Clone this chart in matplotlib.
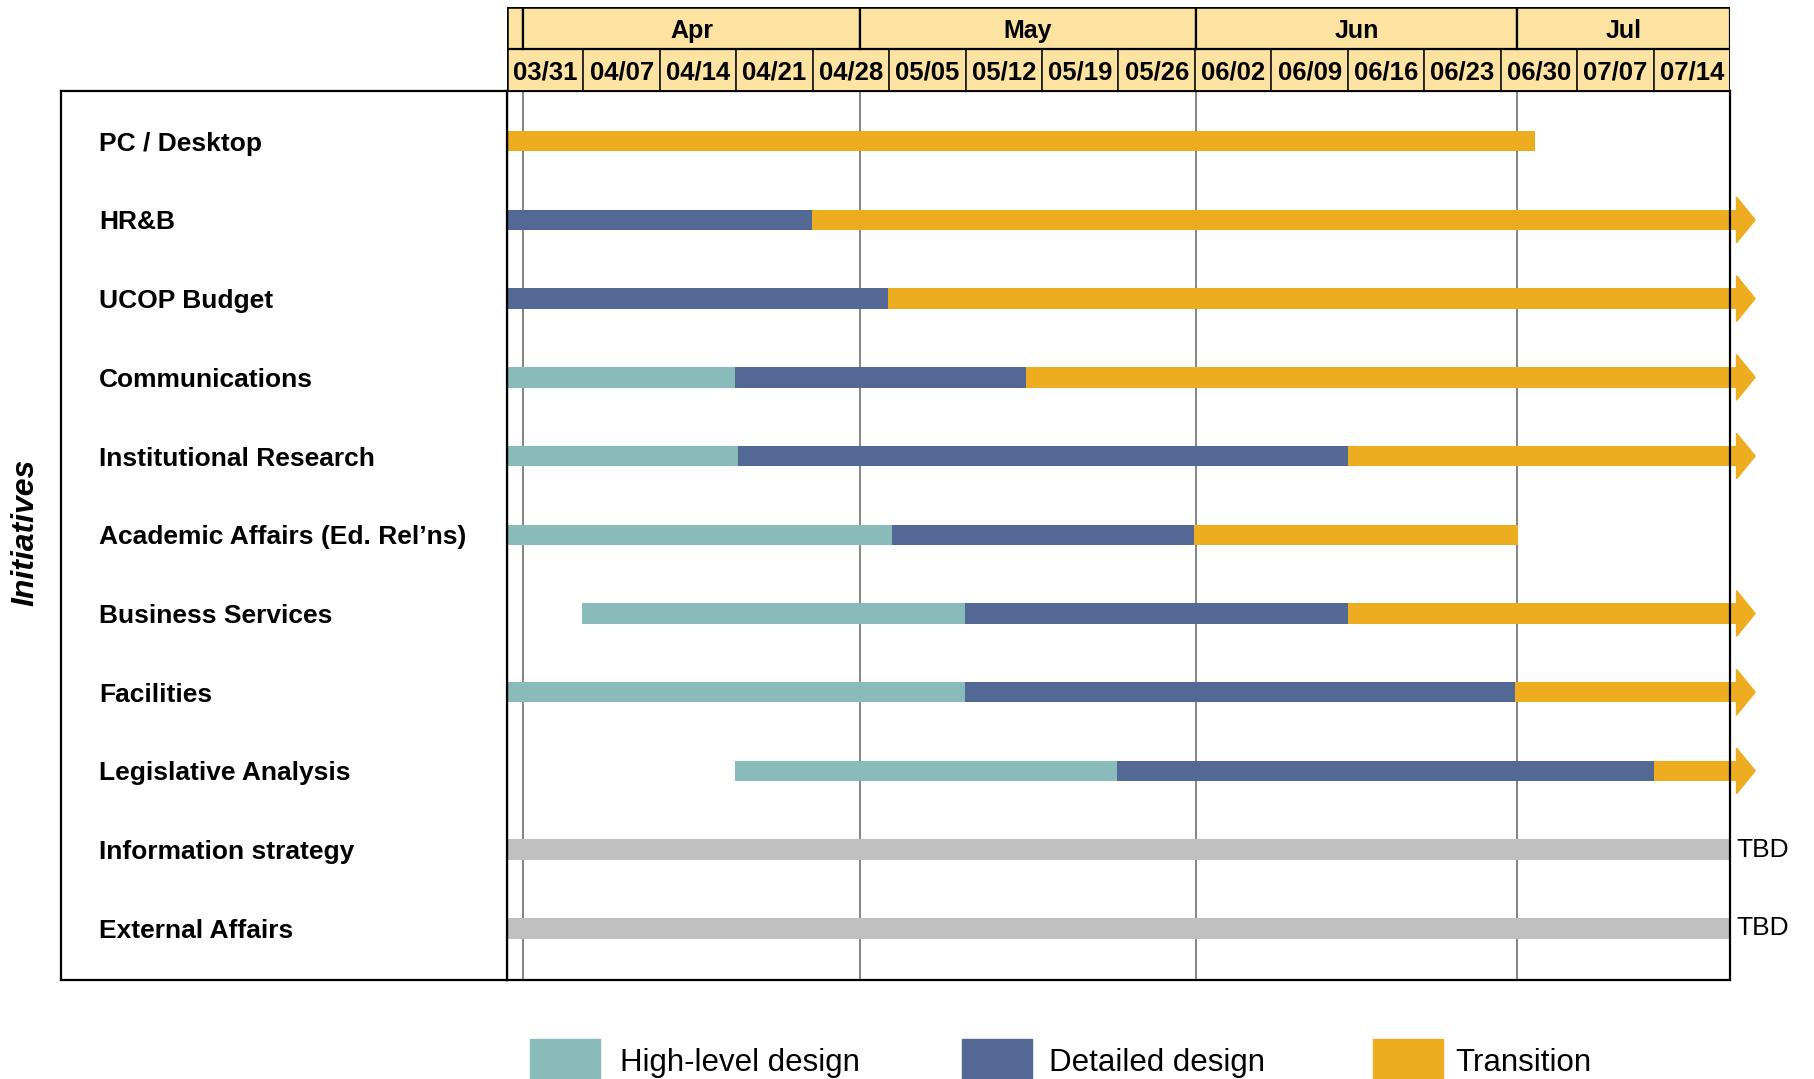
import numpy as np
import matplotlib
matplotlib.use("Agg")
import matplotlib.pyplot as plt
from matplotlib.patches import Rectangle, Polygon

plt.rcParams['font.family'] = ['Liberation Sans', 'DejaVu Sans']

# data (days counted from 03/31)
initiatives = ["PC / Desktop", "HR&B", "UCOP Budget", "Communications",
               "Institutional Research", "Academic Affairs (Ed. Rel\u2019ns)",
               "Business Services", "Facilities", "Legislative Analysis",
               "Information strategy", "External Affairs"]
nan = np.nan
hl_start = [nan, nan, nan, 0, 0, 0, 6.9, 0, 20.9, nan, nan]
hl_end   = [nan, nan, nan, 20.9, 21.2, 35.3, 41.9, 41.9, 55.9, nan, nan]
dd_start = [nan, 0, 0, 20.9, 21.2, 35.3, 41.9, 41.9, 55.9, nan, nan]
dd_end   = [nan, 27.9, 34.9, 47.5, 77.0, 62.9, 77.0, 92.3, 105.0, nan, nan]
tr_start = [0, 27.9, 34.9, 47.5, 77.0, 62.9, 77.0, 92.3, 105.0, nan, nan]
tr_end   = [94.1, 112.6, 112.6, 112.6, 112.6, 92.6, 112.6, 112.6, 112.6, nan, nan]
continues = [False, True, True, True, True, False, True, True, True, False, False]
tbd_start = [nan] * 9 + [0, 0]
tbd_end   = [nan] * 9 + [112, 112]

week_labels = ["03/31", "04/07", "04/14", "04/21", "04/28", "05/05", "05/12", "05/19",
               "05/26", "06/02", "06/09", "06/16", "06/23", "06/30", "07/07", "07/14"]
month_labels = ["", "Apr", "May", "Jun", "Jul"]
month_edges = [0, 1.47, 32.3, 63.1, 92.5, 112]

c_high = "#8abbbb"
c_detail = "#536894"
c_trans = "#eeac20"
c_tbd = "#c0c0c0"
c_head = "#fce3a2"

W, H = 1815, 1079
fig = plt.figure(figsize=(W / 100, H / 100), dpi=100)


def px_axes(x0, y0, x1, y1):
    return fig.add_axes([x0 / W, 1 - y1 / H, (x1 - x0) / W, (y1 - y0) / H])


ax = px_axes(507, 91, 1730, 980)
hax = px_axes(507, 7, 1730, 91)
lax = px_axes(61, 91, 507, 980)

n_days = len(week_labels) * 7
rows = np.arange(len(initiatives))
bar_h = 0.26

# body
ax.set_xlim(0, n_days)
ax.set_ylim(10.657, -0.638)
ax.set_xticks([])
ax.set_yticks([])
for s in ax.spines.values():
    s.set_color("black")
    s.set_linewidth(1.6)
for m in month_edges[1:-1]:
    ax.axvline(m, color="#7a7a7a", lw=1.3, zorder=0)

ax.barh(rows, np.subtract(hl_end, hl_start), left=hl_start, height=bar_h, color=c_high, zorder=2)
ax.barh(rows, np.subtract(dd_end, dd_start), left=dd_start, height=bar_h, color=c_detail, zorder=2)
bars = ax.barh(rows, np.subtract(tr_end, tr_start), left=tr_start, height=bar_h, color=c_trans, zorder=2)
for b in bars:
    b.set_clip_on(False)
ax.barh(rows, np.subtract(tbd_end, tbd_start), left=tbd_start, height=bar_h, color=c_tbd, zorder=2)

head_len, head_half = 1.7, 0.29
for r, cont in zip(rows, continues):
    if cont:
        x = tr_end[r]
        ax.add_patch(Polygon([[x, r - head_half], [x + head_len, r], [x, r + head_half]],
                             closed=True, color=c_trans, clip_on=False, zorder=3))
for r in rows:
    if not np.isnan(tbd_end[r]):
        ax.text(tbd_end[r] + 0.6, r, "TBD", fontsize=19, va="center", ha="left", clip_on=False)

# header
hax.set_xlim(0, n_days)
hax.set_ylim(0, 2)
hax.axis("off")
for i, lab in enumerate(week_labels):
    hax.add_patch(Rectangle((i * 7, 0), 7, 1, facecolor=c_head, edgecolor="#222222", lw=1.3))
    hax.text(i * 7 + 3.5, 0.45, lab, ha="center", va="center", fontsize=18.5, fontweight="bold")
for i, lab in enumerate(month_labels):
    x0, x1 = month_edges[i], month_edges[i + 1]
    hax.add_patch(Rectangle((x0, 1), x1 - x0, 1, facecolor=c_head, edgecolor="black", lw=1.6))
    hax.text((x0 + x1) / 2, 1.44, lab, ha="center", va="center", fontsize=18, fontweight="bold")
hax.add_patch(Rectangle((0, 0), n_days, 2, fill=False, edgecolor="black", lw=1.8))

# left label panel
lax.set_xlim(0, 1)
lax.set_ylim(ax.get_ylim())
lax.set_xticks([])
lax.set_yticks([])
for s in lax.spines.values():
    s.set_color("black")
    s.set_linewidth(1.6)
for r, name in zip(rows, initiatives):
    lax.text(0.085, r, name, ha="left", va="center_baseline", fontsize=19, fontweight="bold")

fig.text(25 / W, 1 - 532 / H, "Initiatives", rotation=90, ha="center", va="center",
         fontsize=23, fontweight="bold", fontstyle="italic")

# legend
legend_items = [("High-level design", c_high, 530, 620),
                ("Detailed design", c_detail, 962, 1049),
                ("Transition", c_trans, 1373, 1455)]
for lab, col, px, tx in legend_items:
    fig.add_artist(Rectangle((px / W, 1 - 1110 / H), 70 / W, 71 / H,
                             transform=fig.transFigure, color=col))
    fig.text(tx / W, 1 - 1071 / H, lab, fontsize=22.5, va="baseline", ha="left")

fig.savefig("out.png", dpi=100)
